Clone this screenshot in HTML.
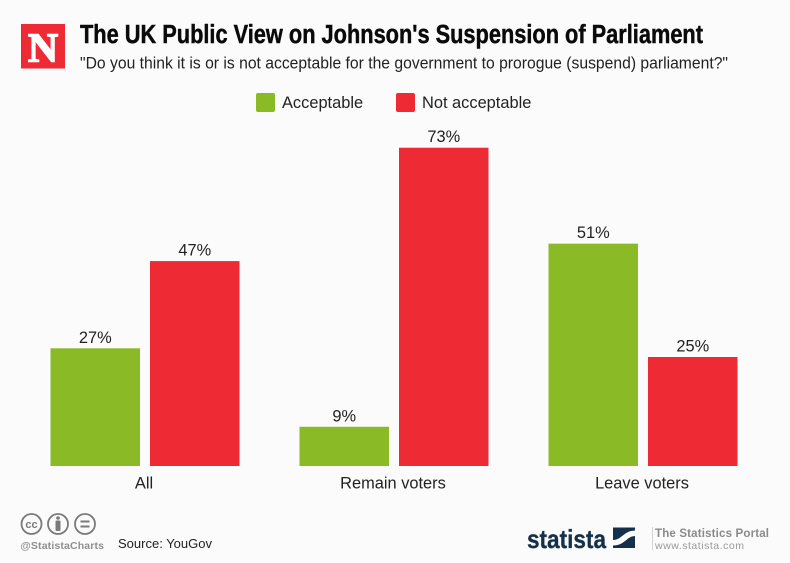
<!DOCTYPE html>
<html lang="en">
<head>
<meta charset="utf-8">
<title>The UK Public View on Johnson's Suspension of Parliament</title>
<style>
html,body{margin:0;padding:0;background:#fbfbfb;width:790px;height:563px;overflow:hidden}
svg{display:block;font-family:"Liberation Sans",Arial,sans-serif}
</style>
</head>
<body>
<svg id="chart" width="790" height="563" viewBox="0 0 790 563">
  <rect width="790" height="563" fill="#fbfbfb"/>
  <g>
    <rect x="21" y="24" width="44" height="44.500" fill="#ee2b35"/>
    <text x="43" y="61.500" text-anchor="middle" font-family="'Liberation Serif',serif" font-weight="700" font-size="41" fill="#fff" stroke="#fff" stroke-width="1.600" textLength="30" lengthAdjust="spacingAndGlyphs">N</text>
  </g>
  <text x="80" y="43" font-size="25.500" font-weight="700" fill="#0a0a0a" stroke="#0a0a0a" stroke-width="0.450" textLength="623" lengthAdjust="spacingAndGlyphs">The UK Public View on Johnson's Suspension of Parliament</text>
  <text x="80" y="68.500" font-size="16.500" fill="#222" textLength="648" lengthAdjust="spacingAndGlyphs">"Do you think it is or is not acceptable for the government to prorogue (suspend) parliament?"</text>

  <g>
    <g>
      <rect x="256" y="93" width="19" height="19" rx="2" fill="#8abb26"/>
      <text x="282" y="108" font-size="16.400" fill="#222">Acceptable</text>
    </g>
    <g>
      <rect x="396" y="93" width="19" height="19" rx="2" fill="#ee2b35"/>
      <text x="422" y="108" font-size="16.400" fill="#222">Not acceptable</text>
    </g>
  </g>

  <g id="plot"></g>

  <g fill="none" stroke="#7a7a7a" stroke-width="1.800">
    <circle cx="31.500" cy="524" r="10"/>
    <text x="31.500" y="528" text-anchor="middle" font-size="11" font-weight="700" fill="#7a7a7a" stroke="none">cc</text>
    <circle cx="58" cy="524" r="10"/>
    <circle cx="58" cy="518" r="1.800" fill="#7a7a7a" stroke="none"/>
    <rect x="55.500" y="520.500" width="5" height="10.500" rx="1" fill="#7a7a7a" stroke="none"/>
    <circle cx="85" cy="524" r="10"/>
    <rect x="80.500" y="520.500" width="9" height="2" fill="#7a7a7a" stroke="none"/>
    <rect x="80.500" y="525.500" width="9" height="2" fill="#7a7a7a" stroke="none"/>
  </g>
  <text x="20.500" y="549" font-size="10.500" font-weight="700" fill="#8f8f8f" textLength="83.500" lengthAdjust="spacing">@StatistaCharts</text>
  <text x="118" y="548" font-size="13.200" fill="#222" textLength="94" lengthAdjust="spacingAndGlyphs">Source: YouGov</text>

  <g>
    <text x="527" y="548" font-size="26" font-weight="700" fill="#14304a" stroke="#14304a" stroke-width="0.300" textLength="79" lengthAdjust="spacingAndGlyphs">statista</text>
    <rect x="613" y="527.500" width="22" height="20.500" fill="#14304a"/>
    <path d="M613 540 C622 540 623 531 635 530.500 L635 536 C626 536.500 625 545.500 613 545.500 Z" fill="#fbfbfb"/>
  </g>
  <rect x="652" y="527" width="1" height="23" fill="#d4d4d4"/>
  <text x="655" y="537" font-size="11.500" font-weight="700" fill="#8a8a8a" textLength="114" lengthAdjust="spacing">The Statistics Portal</text>
  <text x="655" y="549" font-size="10.500" fill="#999" textLength="89" lengthAdjust="spacing">www.statista.com</text>
</svg>
<script>
var categories = ["All", "Remain voters", "Leave voters"];
var acceptableValues = [27, 9, 51];
var notAcceptableValues = [47, 73, 25];

var plot = document.getElementById('plot');
var NS = 'http://www.w3.org/2000/svg';
var baselineY = 466;
var unitHeight = 4.36;
var groupStart = 50.5;
var groupStep = 249;
var barWidth = 89.5;
var barGap = 10;

function yScale(v) { return baselineY - v * unitHeight; }
function xScale(groupIndex, seriesIndex) {
  return groupStart + groupIndex * groupStep + seriesIndex * (barWidth + barGap);
}

function addBar(groupIndex, seriesIndex, value, color) {
  var x = xScale(groupIndex, seriesIndex);
  var r = document.createElementNS(NS, 'rect');
  r.setAttribute('x', x);
  r.setAttribute('y', yScale(value));
  r.setAttribute('width', barWidth);
  r.setAttribute('height', baselineY - yScale(value));
  r.setAttribute('fill', color);
  
  
  plot.appendChild(r);

  var t = document.createElementNS(NS, 'text');
  t.setAttribute('x', x + barWidth / 2);
  t.setAttribute('y', yScale(value) - 5.5);
  t.setAttribute('text-anchor', 'middle');
  t.setAttribute('font-size', '16.4');
  t.setAttribute('fill', '#222');
  t.textContent = value + '%';
  
  
  plot.appendChild(t);
}

categories.forEach(function (name, i) {
  addBar(i, 0, acceptableValues[i], '#8abb26');
  addBar(i, 1, notAcceptableValues[i], '#ee2b35');

  var label = document.createElementNS(NS, 'text');
  label.setAttribute('x', xScale(i, 0) + barWidth + barGap / 2 - 1);
  label.setAttribute('y', 488.5);
  label.setAttribute('text-anchor', 'middle');
  label.setAttribute('font-size', '16.4');
  label.setAttribute('fill', '#222');
  label.textContent = name;
  
  
  plot.appendChild(label);
});
</script>
</body>
</html>
